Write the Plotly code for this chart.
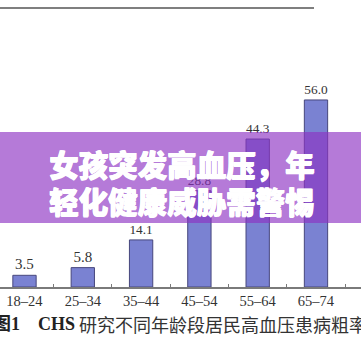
import plotly.graph_objects as go

age_groups = ["18–24", "25–34", "35–44", "45–54", "55–64", "65–74"]
prevalence = [3.5, 5.8, 14.1, 28.8, 44.3, 56.0]
banner_lines = ["女孩突发高血压，年", "轻化健康威胁需警惕"]
caption_bold = "<b>图1</b>\u2003<b>CHS</b>"
caption_text = "研究不同年龄段居民高血压患病粗率"

W, H = 361, 361
plot_bottom = 287  # pixel of baseline
PH = plot_bottom

def py(pix):
    return (PH - pix) / PH

fig = go.Figure()
fig.add_trace(go.Bar(
    x=age_groups, y=prevalence, width=0.40,
    marker=dict(color="#7a82d2", line=dict(color="#46467c", width=1)),
    text=prevalence, texttemplate="%{y:.1f}", textposition="outside",
    textfont=dict(family="Liberation Serif", size=15, color="#333333"),
    cliponaxis=False, hoverinfo="skip",
))

shapes = [
    dict(type="line", xref="paper", yref="paper", x0=0, x1=314 / W, y0=py(8), y1=py(8),
         line=dict(color="#555555", width=1.5)),
    dict(type="rect", xref="paper", yref="paper", x0=0, x1=1, y0=py(223), y1=py(132),
         fillcolor="rgba(141,51,195,0.65)", line=dict(width=0), layer="above"),
]

annotations = []
for line, ypix in zip(banner_lines, [162.5, 200.5]):
    annotations.append(dict(
        text=line, xref="paper", yref="paper", x=181.5 / W, y=py(ypix),
        xanchor="center", yanchor="middle", showarrow=False,
        font=dict(family="Noto Sans CJK SC", size=29.5, color="white", weight=900,
                  shadow="0.7px 0px 0px white, -0.3px 0px 0px white, 0px 0.5px 0px white"),
    ))
annotations.append(dict(
    text=caption_bold, xref="paper", yref="paper", x=77 / W, y=py(324),
    xanchor="right", yanchor="middle", showarrow=False,
    font=dict(family="Liberation Serif, Noto Sans CJK SC", size=18, color="#222222"),
))
annotations.append(dict(
    text=caption_text, xref="paper", yref="paper", x=77 / W, y=py(324),
    xanchor="left", yanchor="middle", showarrow=False,
    font=dict(family="Noto Sans CJK SC", size=18, color="#333333"),
))

fig.update_layout(
    width=W, height=H,
    margin=dict(l=0, r=0, t=0, b=H - plot_bottom, pad=0),
    paper_bgcolor="white", plot_bgcolor="white",
    showlegend=False,
    shapes=shapes, annotations=annotations,
    xaxis=dict(
        type="category", range=[-0.42, 5.772],
        showline=True, linecolor="#7a7a7a", linewidth=1.5,
        ticks="inside", tickson="boundaries", ticklen=3, tickcolor="#7a7a7a",
        showgrid=False, zeroline=False,
        tickfont=dict(family="Liberation Serif", size=14.5, color="#333333"),
    ),
    yaxis=dict(range=[0, PH / 3.34], visible=False, showgrid=False, zeroline=False),
)

fig.write_html("out.html", config={"displayModeBar": False},
               post_script="document.body.style.margin='0';document.body.style.overflow='hidden';")
